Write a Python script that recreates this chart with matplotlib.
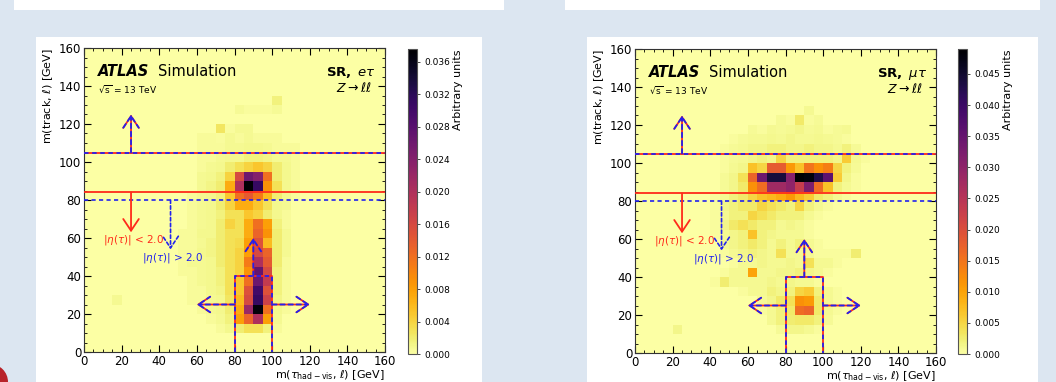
import numpy as np
import matplotlib.pyplot as plt
from matplotlib.patches import Rectangle, Ellipse

W, H = 1056, 382

# bin edges (GeV), 5 GeV bins
edges = np.arange(0, 165, 5)

# sparse heatmap rows: (y bin low edge, first x bin low edge, values in 1e-3 units)
etau_rows = [
    (130, 100, [1.5]),
    (125, 80, [0.6, 0.3, 0.3, 0.3, 0.6]),
    (115, 70, [2.5, 0.3, 0.8, 0.8]),
    (110, 60, [0.5, 0.5, 0.3, 0.8, 0.5, 0.8, 0.5, 0.5, 0.5]),
    (105, 60, [0.5, 0.5, 0.5, 0.8, 0.8, 1, 1, 0.8, 0.5, 0.5, 0.5]),
    (100, 60, [0.5, 0.5, 0.8, 1, 1, 1.5, 1.5, 1.2, 0.8, 0.8, 0.5]),
    (95, 60, [0.5, 0.8, 1, 2, 3, 4, 5, 4, 2, 1, 0.5]),
    (90, 60, [0.8, 1, 1.5, 4, 16, 26, 24, 12, 2, 1, 0.5]),
    (85, 60, [0.8, 1.2, 2, 7, 20, 37.5, 31, 9, 3, 1, 0.5]),
    (80, 55, [0.5, 0.8, 1, 1.5, 5, 12, 14, 11, 6, 2, 1, 0.5]),
    (75, 55, [0.5, 0.8, 1, 2, 4, 7, 7, 5, 3, 1, 0.8]),
    (70, 55, [0.5, 0.8, 1, 1.5, 3, 3, 5, 4, 2, 1, 0.5]),
    (65, 55, [0.5, 0.8, 1, 2, 4, 3, 7, 12, 8, 1.5, 0.5]),
    (60, 50, [0.5, 0.5, 1, 1, 2, 3, 3, 7, 13, 9, 2, 0.8]),
    (55, 50, [0.5, 0.5, 0.8, 1.2, 2, 3, 3.5, 8, 15, 6, 2, 0.8]),
    (50, 50, [0.5, 0.5, 1, 1.2, 2, 3, 4, 8, 16, 13, 2, 0.8]),
    (45, 50, [0.5, 0.8, 0.8, 1, 2, 3, 4, 11, 20, 14, 2, 0.5]),
    (40, 50, [0.5, 0.5, 0.8, 1, 1.5, 3, 4, 9, 27, 16, 1.5, 0.5]),
    (35, 55, [0.5, 0.8, 1, 1.5, 3, 5, 12, 26, 18, 1.5, 0.5]),
    (30, 55, [0.5, 0.5, 1, 1.2, 3, 5, 15, 30, 15, 1.5, 0.5]),
    (25, 55, [0.5, 0.5, 0.8, 1, 2.5, 6, 16, 31, 17, 1.2, 0.5]),
    (25, 15, [0.8]),
    (20, 60, [0.5, 0.8, 1, 2, 7, 22, 37, 12, 1, 0.5]),
    (15, 65, [0.5, 0.8, 1.5, 8, 13, 20, 8, 0.8]),
    (10, 70, [0.5, 1, 2, 3, 3, 1.5, 0.5]),
]

mutau_rows = [
    (125, 90, [1]),
    (120, 75, [0.8, 0.5, 3, 0.5, 0.8]),
    (115, 60, [0.8, 0.5, 1, 0.8, 1, 1.5, 0.8, 1, 0.5, 0.8, 1]),
    (110, 50, [0.5, 0.8, 1, 1, 1.2, 1, 1.5, 1, 1, 1.2, 1, 0.8, 0.5]),
    (105, 45, [0.5, 0.8, 1, 1.5, 1.5, 2, 2, 1.5, 1.5, 2, 1.5, 1.5, 1, 2, 0.8]),
    (100, 45, [0.5, 0.8, 1, 1.5, 2, 1.5, 5, 2, 2, 2, 2, 2, 1.5, 6, 1, 0.5]),
    (95, 45, [0.5, 1, 1.5, 7, 5, 18, 18, 11, 7, 15, 12, 14, 5, 2, 0.8]),
    (90, 45, [0.8, 1.5, 4, 17, 34, 44, 44, 31, 49, 48, 43, 36, 6, 1.5, 0.5]),
    (85, 45, [0.8, 1.5, 3, 12, 16, 28, 28, 30, 23, 32, 16, 7, 2, 1, 0.5]),
    (80, 40, [0.5, 1, 2, 3, 5, 7, 8, 9, 11, 8, 6, 3, 2, 1, 0.5]),
    (75, 40, [0.5, 1.5, 2, 3, 3, 5, 4, 3, 2, 5, 2, 1, 0.5]),
    (70, 40, [0.5, 1, 2, 2, 5, 4, 3, 2, 2, 2, 1, 0.5]),
    (65, 40, [0.5, 1.5, 3, 4, 3, 2, 2, 1, 1.5, 1, 0.5]),
    (60, 40, [0.5, 1, 1.5, 2, 7, 2, 1.5, 1, 1, 1, 0.5]),
    (55, 45, [1, 1.5, 2, 3, 2, 1, 2, 1, 2, 1, 0.5]),
    (50, 45, [0.5, 1, 1.5, 2, 1.5, 1, 4, 1, 1, 1, 0.5, 0.5, 0.5, 0.5, 2.5]),
    (45, 50, [0.5, 1, 1, 1.5, 1, 1, 1.5, 1, 4, 1, 1, 0.5]),
    (40, 45, [0.5, 1, 1, 10, 1, 1, 1.5, 1.5, 2, 1.5, 1, 0.5]),
    (35, 40, [0.5, 2.5, 1, 1, 1, 1, 1.5, 1, 1.5, 1, 1, 0.5]),
    (30, 55, [0.5, 1, 1, 2, 1.5, 2, 5, 6, 2, 1, 0.5]),
    (25, 65, [0.8, 1.5, 3, 4, 12, 11, 3, 1, 0.5]),
    (20, 65, [0.5, 1, 2, 3, 16, 17, 3, 1, 0.5]),
    (15, 70, [1, 2, 2.5, 3, 3, 2, 0.8]),
    (10, 20, [1.5]),
    (10, 75, [0.8, 1.5, 1.5, 1, 0.5]),
]

etau_ticks = np.arange(0, 0.0361, 0.004)
mutau_ticks = np.arange(0, 0.0451, 0.005)
etau_vmax = 0.0376
mutau_vmax = 0.049

bg = '#dce6f1'
red = '#ff2a1a'
blue = '#2222ee'


def build_grid(rows):
    grid = np.zeros((len(edges) - 1, len(edges) - 1))
    for y, x0, vals in rows:
        iy, ix = y // 5, x0 // 5
        grid[iy, ix:ix + len(vals)] += vals
    return grid * 1e-3


def px_axes(fig, x0, y0, x1, y1):
    return fig.add_axes([x0 / W, 1 - y1 / H, (x1 - x0) / W, (y1 - y0) / H])


def rb_line(ax, xs, ys):
    # red solid line with blue dashes on top
    ax.plot(xs, ys, color=red, lw=1.3, solid_capstyle='butt', zorder=5)
    ax.plot(xs, ys, color=blue, lw=1.3, ls=(0, (2.5, 2)), zorder=6)


def arrow(ax, start, end, color, ls='-', lw=1.3, z=7):
    ax.annotate('', xy=end, xytext=start,
                arrowprops=dict(arrowstyle='->,head_length=0.6,head_width=0.4',
                                color=color, lw=lw, ls=ls, shrinkA=0, shrinkB=0,
                                mutation_scale=14),
                zorder=z)


def rb_arrow(ax, start, end):
    arrow(ax, start, end, red, z=7)
    arrow(ax, start, end, blue, ls=(0, (2.5, 2)), z=8)


def draw_panel(fig, ax, cax, rows, vmax, ticks, channel):
    grid = build_grid(rows)
    mesh = ax.pcolormesh(edges, edges, grid, cmap='inferno_r', vmin=0, vmax=vmax)
    ax.set_xlim(0, 160)
    ax.set_ylim(0, 160)
    ax.set_xticks(np.arange(0, 161, 20))
    ax.set_yticks(np.arange(0, 161, 20))
    ax.set_xticks(np.arange(0, 161, 5), minor=True)
    ax.set_yticks(np.arange(0, 161, 5), minor=True)
    ax.tick_params(which='both', direction='in', top=True, right=True, labelsize=8.5)
    ax.tick_params(which='major', length=5, width=0.8)
    ax.tick_params(which='minor', length=2.5, width=0.6)
    ax.tick_params(axis='x', pad=2)
    ax.tick_params(axis='y', pad=2)
    for s in ax.spines.values():
        s.set_linewidth(0.8)
        s.set_color('#333333')
    ax.set_xlabel(r'm($\tau_{\mathrm{had-vis}}$, $\ell$) [GeV]', loc='right',
                  fontsize=8, labelpad=0)
    ax.set_ylabel(r'm(track, $\ell$) [GeV]', loc='top', fontsize=8, labelpad=3)

    # selection lines
    rb_line(ax, [0, 160], [105, 105])
    rb_arrow(ax, (25, 105), (25, 125))
    ax.plot([0, 160], [84, 84], color=red, lw=1.3, zorder=5)
    arrow(ax, (25, 84), (25, 63), red)
    ax.plot([0, 160], [80, 80], color=blue, lw=1.2, ls=(0, (2.5, 2)), zorder=5)
    arrow(ax, (46, 80), (46, 54), blue, ls=(0, (2, 1.5)), lw=1.2)
    ax.text(10, 59, r'$|\eta(\tau)|$ < 2.0', color=red, fontsize=7.5, va='center')
    ax.text(31, 49.5, r'$|\eta(\tau)|$ > 2.0', color=blue, fontsize=7.5, va='center')

    # box around the Z peak
    rb_line(ax, [80, 80, 100, 100], [0, 40, 40, 0])
    rb_arrow(ax, (90, 40), (90, 60))
    rb_arrow(ax, (80, 25), (60, 25))
    rb_arrow(ax, (100, 25), (120, 25))

    # labels
    ax.text(7.5, 147.5, 'ATLAS', fontsize=10.5, fontweight='bold', fontstyle='italic',
            va='center')
    ax.text(39.5, 147.5, 'Simulation', fontsize=10.5, va='center')
    ax.text(7.5, 138.3, r'$\sqrt{\mathrm{s}}$ = 13 TeV', fontsize=6.5, va='center')
    ax.text(155, 147, r'$\mathbf{SR,}$ $%s$' % channel, fontsize=9.5, va='center', ha='right')
    ax.text(153, 139, r'$Z\rightarrow\ell\ell$', fontsize=9, va='center', ha='right')

    cb = fig.colorbar(mesh, cax=cax, ticks=ticks, format='%.3f')
    cb.ax.tick_params(labelsize=6.5, length=2, width=0.5)
    cb.outline.set_edgecolor('#555555')
    cb.outline.set_linewidth(0.8)
    cb.set_label('Arbitrary units', loc='top', fontsize=8, labelpad=2)


fig = plt.figure(figsize=(W / 100, H / 100), dpi=100, facecolor=bg)

# slide boxes
for x0, y0, x1, y1 in [(14, 0, 504, 10), (565, 0, 1040, 10), (36, 37, 482, 382), (587, 37, 1038, 382)]:
    fig.patches.append(Rectangle((x0 / W, 1 - y1 / H), (x1 - x0) / W, (y1 - y0) / H,
                                 transform=fig.transFigure, facecolor='white',
                                 edgecolor='none', zorder=-2))
fig.patches.append(Ellipse((-10 / W, 0), 36 / W, 36 / H, transform=fig.transFigure,
                           facecolor='#b8232a', edgecolor='none', zorder=-2))

ax1 = px_axes(fig, 84, 48, 385, 352)
cax1 = px_axes(fig, 408, 49, 417, 354)
ax2 = px_axes(fig, 635, 49, 936, 353)
cax2 = px_axes(fig, 958, 49, 967, 354)

draw_panel(fig, ax1, cax1, etau_rows, etau_vmax, etau_ticks, r'e\tau')
draw_panel(fig, ax2, cax2, mutau_rows, mutau_vmax, mutau_ticks, r'\mu\tau')

fig.savefig('out.png', dpi=100, facecolor=bg)
